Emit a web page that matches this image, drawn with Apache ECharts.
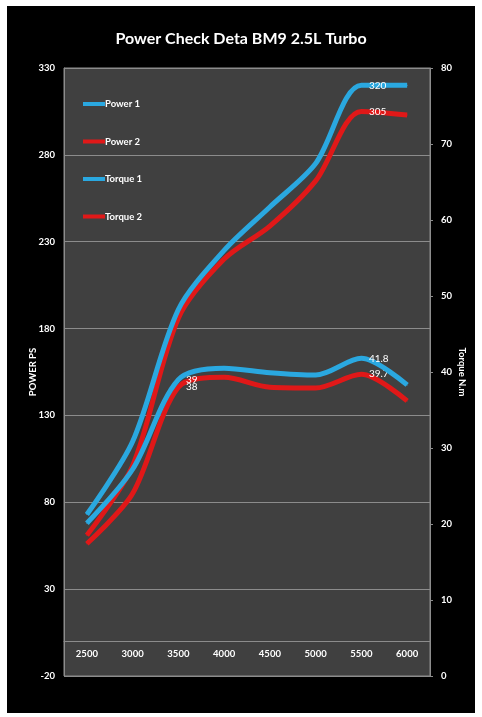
<!DOCTYPE html>
<html>
<head>
<meta charset="utf-8">
<script src="https://cdn.jsdelivr.net/npm/echarts@6/dist/echarts.min.js"></script>
<style>
	html, body { margin: 0; padding: 0; background: #fff; }
	#cn { position: absolute; left: 7px; top: 6px; width: 468px; height: 707px; background: #000; }
</style>
</head>
<body>
<div id="cn"></div>
<script>
'use strict';

const RPM = ['2500', '3000', '3500', '4000', '4500', '5000', '5500', '6000'];
const POWER_1 = [73, 115, 191, 225, 250, 275, 320, 320];
const POWER_2 = [61, 101, 186, 220, 239, 265, 305, 303];
const TORQUE_1 = [20.1, 27.2, 39, 40.5, 39.9, 39.6, 41.8, 38.3];
const TORQUE_2 = [17.4, 24.0, 38, 39.3, 38.0, 37.9, 39.7, 36.2];

// points that carry a value label
const LABEL_POWER = [6];
const LABEL_TORQUE = [2, 6];

const BLUE = '#2aa8e0';
const RED = '#e01818';
const FONT = 'Lato';
const GRID_LINE = '#8c8c8c';

const withLabels = (arr, idxList) => arr.map((v, i) => idxList.indexOf(i) !== -1 ? {
	value: v,
	label: { show: true }
} : v);

const makeSeries = (name, arr, color, axis, idxList, z) => ({
	name: name,
	type: 'line',
	yAxisIndex: axis,
	z: z,
	data: withLabels(arr, idxList),
	smooth: 0.3,
	showSymbol: true,
	symbol: 'circle',
	symbolSize: 1, //labels need a symbol
	lineStyle: { color: color, width: 5 },
	itemStyle: { color: color },
	label: {
		show: false,
		position: 'right',
		distance: 7,
		color: '#fff',
		fontFamily: FONT,
		fontSize: 10
	},
	emphasis: { disabled: true }
});

const axisText = {
	color: '#fff',
	fontFamily: FONT,
	fontWeight: 'bold',
	fontSize: 9.5
};

const nameText = { color: '#fff', fontFamily: FONT, fontWeight: 'bold', fontSize: 9.5 };

let pandaChart = echarts.init(document.getElementById('cn'));

let option = {
	backgroundColor: '#000',
	animation: false,
	title: {
		text: 'Power Check Deta BM9 2.5L Turbo',
		left: 'center',
		top: 25,
		padding: 0,
		textStyle: { color: '#fff', fontFamily: FONT, fontWeight: 'bold', fontSize: 16 }
	},
	legend: {
		orient: 'vertical',
		left: 76,
		top: 93,
		padding: 0,
		itemGap: 27.5,
		itemWidth: 22,
		itemHeight: 4,
		icon: 'rect',
		textStyle: { color: '#fff', fontFamily: FONT, fontWeight: 'bold', fontSize: 9.5, padding: [0, 0, 0, -5] },
		data: ['Power 1', 'Power 2', 'Torque 1', 'Torque 2']
	},
	grid: {
		left: 57,
		right: 41,
		top: 62,
		bottom: 37,
		show: true,
		backgroundColor: '#404040',
		borderColor: GRID_LINE,
		borderWidth: 1
	},
	xAxis: {
		type: 'category',
		data: RPM,
		boundaryGap: true,
		axisLine: { onZero: true, onZeroAxisIndex: 0, lineStyle: { color: GRID_LINE, width: 1 } },
		axisTick: { show: false },
		axisLabel: Object.assign({ margin: -27 }, axisText) // sit just under the zero line
	},
	yAxis: [{
		type: 'value',
		min: -20,
		max: 330,
		interval: 50,
		name: 'POWER PS',
		nameLocation: 'middle',
		nameRotate: 90,
		nameGap: 26,
		nameMoveOverlap: false,
		nameTextStyle: nameText,
		axisLine: { show: true, lineStyle: { color: GRID_LINE } },
		axisTick: { show: false },
		axisLabel: Object.assign({ margin: 9 }, axisText),
		splitLine: { show: true, lineStyle: { color: GRID_LINE, width: 1 } }
	}, {
		type: 'value',
		min: 0,
		max: 80,
		interval: 10,
		position: 'right',
		name: 'Torque N.m',
		nameLocation: 'middle',
		nameRotate: -90,
		nameGap: 27,
		nameMoveOverlap: false,
		nameTextStyle: nameText,
		axisLine: { show: true, lineStyle: { color: GRID_LINE } },
		axisTick: { show: true, length: 3, lineStyle: { color: GRID_LINE } },
		axisLabel: Object.assign({ margin: 11 }, axisText),
		splitLine: { show: false }
	}],
	series: [
		makeSeries('Power 1', POWER_1, BLUE, 0, LABEL_POWER, 3),
		makeSeries('Power 2', POWER_2, RED, 0, LABEL_POWER, 2),
		makeSeries('Torque 1', TORQUE_1, BLUE, 1, LABEL_TORQUE, 3),
		makeSeries('Torque 2', TORQUE_2, RED, 1, LABEL_TORQUE, 2)
	]
};

pandaChart.setOption(option);
</script>
</body>
</html>
